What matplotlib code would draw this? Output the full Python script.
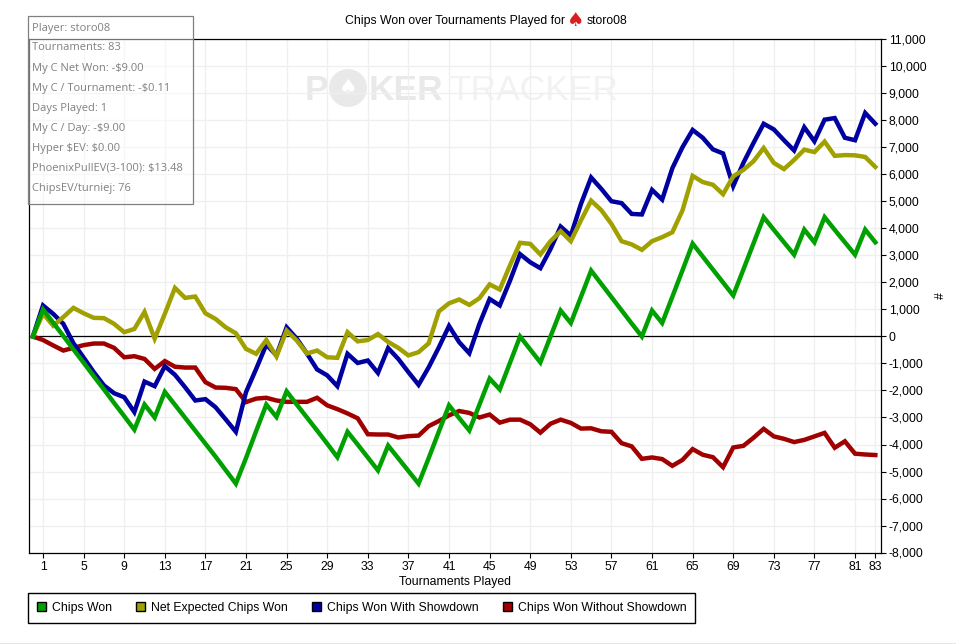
import matplotlib
matplotlib.use('Agg')
import matplotlib.pyplot as plt
from matplotlib.patches import Ellipse, Patch, Rectangle

plt.rcParams['font.family'] = ['Liberation Sans', 'DejaVu Sans']
plt.rcParams['font.size'] = 8.8

tournaments = list(range(0, 84))
x_ticks = [1, 5, 9, 13, 17, 21, 25, 29, 33, 37, 41, 45, 49, 53, 57, 61, 65, 69, 73, 77, 81, 83]
y_ticks = list(range(-8000, 12000, 1000))

chips_won = [0, 1000, 510, 20, -480, -970, -1470, -1960, -2460, -2950, -3450, -2520, -3000, -2050,
	-2530, -3010, -3490, -3970, -4450, -4950, -5450, -4500, -3500, -2520, -2980, -2030, -2520, -3000,
	-3480, -3970, -4470, -3530, -4000, -4480, -4960, -4040, -4510, -4980, -5450, -4500, -3520, -2550,
	-3020, -3480, -2520, -1560, -1960, -980, 0, -480, -960, 0, 960, 500, 1470, 2440, 1950, 1460,
	970, 480, 0, 960, 500, 1470, 2450, 3440, 2960, 2480, 2000, 1520, 2480, 3450, 4420, 3950,
	3490, 3030, 3960, 3490, 4420, 3950, 3490, 3030, 3960, 3490]
net_expected = [0, 850, 400, 720, 1060, 860, 690, 680, 470, 160, 280, 910, -80, 840,
	1800, 1430, 1480, 860, 650, 340, 120, -460, -640, -130, -740, 220, -150, -630,
	-520, -770, -790, 160, -180, -130, 90, -200, -420, -700, -580, -250, 930, 1230,
	1370, 1170, 1420, 1930, 1740, 2630, 3470, 3430, 3040, 3530, 3900, 3530, 4300, 5030, 4680, 4170,
	3530, 3410, 3210, 3530, 3680, 3860, 4670, 5950, 5720, 5620, 5270, 5930, 6170, 6490, 6980, 6430,
	6200, 6540, 6920, 6830, 7220, 6690, 6720, 6710, 6650, 6280]
with_showdown = [0, 1150, 840, 470, -250, -780, -1320, -1810, -2100, -2250, -2800, -1670, -1840, -1100,
	-1420, -1880, -2370, -2320, -2620, -3070, -3530, -2060, -1200, -300, -700, 340, -80, -630,
	-1220, -1440, -1840, -640, -980, -890, -1350, -430, -830, -1320, -1790, -1140, -400, 390,
	-210, -620, 470, 1390, 1150, 2060, 3050, 2750, 2530, 3240, 4070, 3740, 4910, 5890, 5470, 5010,
	4940, 4540, 4520, 5430, 5070, 6230, 7010, 7650, 7360, 6930, 6780, 5570, 6430, 7170, 7880, 7670,
	7270, 6890, 7750, 7230, 8030, 8090, 7360, 7270, 8280, 7880]
without_showdown = [0, -130, -330, -520, -420, -320, -260, -260, -420, -770, -730, -830, -1200, -910,
	-1120, -1150, -1150, -1690, -1890, -1900, -1950, -2430, -2300, -2270, -2370, -2420, -2420, -2420,
	-2270, -2550, -2690, -2850, -3030, -3620, -3630, -3630, -3740, -3690, -3670, -3320, -3130, -2920,
	-2760, -2830, -3000, -2890, -3190, -3080, -3080, -3250, -3560, -3230, -3080, -3200, -3410, -3400, -3510, -3530,
	-3950, -4070, -4530, -4480, -4540, -4790, -4570, -4170, -4380, -4470, -4840, -4110, -4050, -3750, -3420, -3700,
	-3790, -3910, -3830, -3700, -3570, -4120, -3880, -4340, -4370, -4390]

stats = ['Player: storo08', 'Tournaments: 83', 'My C Net Won: -$9.00', 'My C / Tournament: -$0.11',
	'Days Played: 1', 'My C / Day: -$9.00', 'Hyper $EV: $0.00', 'PhoenixPullEV(3-100): $13.48', 'ChipsEV/turniej: 76']

plt.figure(figsize=(9.56, 6.44), dpi=100)
plt.axes([28.5 / 956, 91.5 / 644, 852 / 956, 513 / 644])
fig_coords = plt.gcf().transFigure

# lines, last one in the list is on top
plt.plot(tournaments, without_showdown, color='#A00000', linewidth=3.2, solid_joinstyle='miter', zorder=3)
plt.plot(tournaments, with_showdown, color='#0000A0', linewidth=3.2, solid_joinstyle='miter', zorder=3)
plt.plot(tournaments, net_expected, color='#A0A000', linewidth=3.2, solid_joinstyle='miter', zorder=3)
plt.plot(tournaments, chips_won, color='#00A000', linewidth=3.2, solid_joinstyle='miter', zorder=3)
plt.axhline(0, color='black', linewidth=0.9, zorder=2)

plt.xlim(-0.43, 83.51)
plt.ylim(-8000, 11000)
plt.xticks(x_ticks)
plt.yticks(y_ticks, [f'{v:,}' for v in y_ticks])
plt.grid(color='#efefef', linewidth=0.9)
plt.gca().set_axisbelow(True)
plt.gca().yaxis.tick_right()
plt.gca().yaxis.set_label_position('right')
plt.tick_params(axis='both', length=3.5, width=0.8, pad=2.5)
for side in plt.gca().spines.values():
	side.set_linewidth(0.9)

plt.xlabel('Tournaments Played', labelpad=2.6)
plt.ylabel('#', labelpad=6)

# title with the little red spade
plt.text(345 / 956, 1 - 21 / 644, 'Chips Won over Tournaments Played for', transform=fig_coords, fontsize=8.8, va='center')
plt.text(576 / 956, 1 - 20 / 644, '\u2660', transform=fig_coords, fontsize=14, color='#D81E1E', family='DejaVu Sans', ha='center', va='center')
plt.text(587 / 956, 1 - 21 / 644, 'storo08', transform=fig_coords, fontsize=8.8, va='center')

# watermark, the O is a poker chip
plt.text(305 / 956, 1 - 90 / 644, 'P', transform=fig_coords, fontsize=25.5, fontweight='bold', color='#e9e9e9', va='center', zorder=0.1)
plt.gca().add_patch(Ellipse((348 / 956, 1 - 88 / 644), 38 / 956, 38 / 644, transform=fig_coords, facecolor='#e9e9e9', edgecolor='none', clip_on=False, zorder=0.1))
plt.text(348 / 956, 1 - 88 / 644, '\u2660', transform=fig_coords, fontsize=15, family='DejaVu Sans', color='white', ha='center', va='center', zorder=0.2)
plt.text(369 / 956, 1 - 90 / 644, 'KER', transform=fig_coords, fontsize=25.5, fontweight='bold', color='#e9e9e9', va='center', zorder=0.1)
plt.text(449 / 956, 1 - 90 / 644, 'TRACKER', transform=fig_coords, fontsize=25.5, color='#f2f2f2', va='center', zorder=0.1)

# stats box
plt.gca().add_patch(Rectangle((27.5 / 956, 1 - 204 / 644), 165 / 956, 188.5 / 644, transform=fig_coords, facecolor='white', alpha=0.45, edgecolor='none', clip_on=False, zorder=5))
plt.gca().add_patch(Rectangle((27.5 / 956, 1 - 204 / 644), 165 / 956, 188.5 / 644, transform=fig_coords, fill=False, edgecolor='#808080', linewidth=0.9, clip_on=False, zorder=6))
for i, line in enumerate(stats):
	plt.text(32 / 956, 1 - (28 + 20 * i) / 644, line, transform=fig_coords, family='Open Sans', fontsize=8, color='#808080', va='center', zorder=6, parse_math=False)

legend_items = [Patch(facecolor='#00A000', edgecolor='black', label='Chips Won'),
	Patch(facecolor='#A0A000', edgecolor='black', label='Net Expected Chips Won'),
	Patch(facecolor='#0000A0', edgecolor='black', label='Chips Won With Showdown'),
	Patch(facecolor='#A00000', edgecolor='black', label='Chips Won Without Showdown')]
plt.legend(handles=legend_items, loc='upper left', bbox_to_anchor=(28.5 / 956, 1 - 593 / 644), bbox_transform=fig_coords,
	ncol=4, fancybox=False, framealpha=1, edgecolor='black', borderaxespad=0, handlelength=0.7, handleheight=0.7,
	handletextpad=0.5, columnspacing=2.0, borderpad=0.72)

# grey line at the very bottom
plt.gca().add_patch(Rectangle((0, 0), 1, 1.5 / 644, transform=fig_coords, facecolor='#e6e6e6', edgecolor='none', clip_on=False))

plt.savefig('out.png', dpi=100)
